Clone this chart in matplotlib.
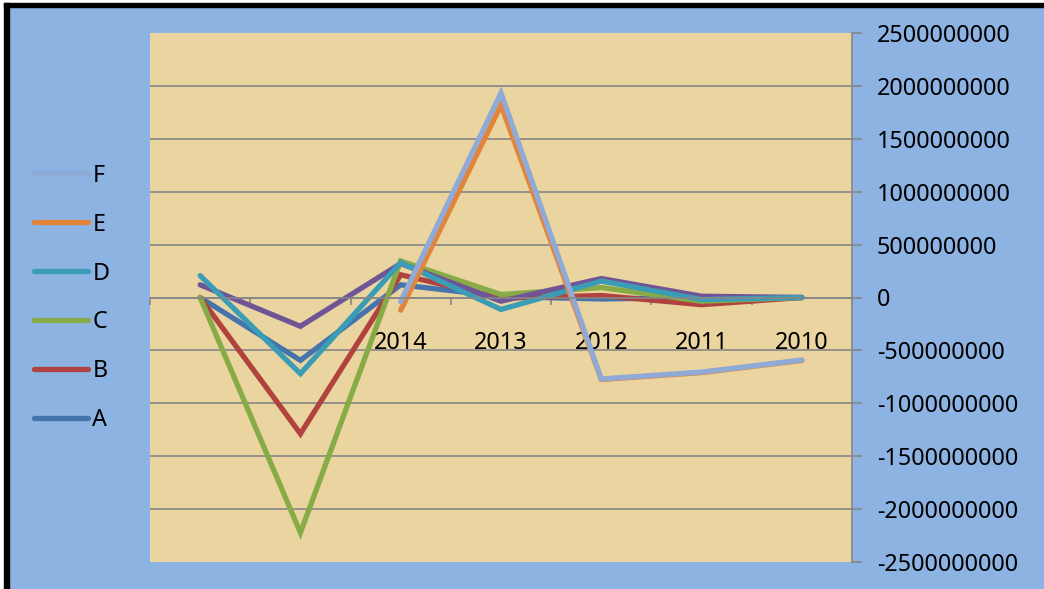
import numpy as np
import matplotlib.pyplot as plt
from matplotlib.patches import Rectangle
from matplotlib.ticker import FixedLocator

plt.rcParams['font.family'] = ['Noto Sans', 'DejaVu Sans']

categories = ['', '', '2014', '2013', '2012', '2011', '2010']
nan = np.nan
A = [0, -594e6, 120e6, 10e6, -14e6, 0, 0]
B = [0, -1288e6, 215e6, -7e6, 19e6, -68e6, 0]
C = [0, -2223e6, 345e6, 28e6, 94e6, -35e6, 0]
P = [120e6, -272e6, 321e6, -35e6, 179e6, 12e6, 0]   # purple series, not in legend
D = [207e6, -720e6, 330e6, -113e6, 155e6, -19e6, 0]
E = [nan, nan, -120e6, 1819e6, -775e6, -710e6, -595e6]
F = [nan, nan, -38e6, 1933e6, -770e6, -705e6, -591e6]

series = [('A', A, '#4573AD'), ('B', B, '#B0433F'), ('C', C, '#86AB47'),
          (None, P, '#6F5496'), ('D', D, '#3B9DB5'), ('E', E, '#E2843A'),
          ('F', F, '#8FAAD6')]

fig = plt.figure(figsize=(10.44, 5.89), dpi=100, facecolor='#8DB3E2')

# black frame on left and top edge
fig.patches.append(Rectangle((0, 0), 4 / 1044, 1, transform=fig.transFigure, color='white', zorder=0))
fig.patches.append(Rectangle((0, 1 - 3 / 589), 1, 3 / 589, transform=fig.transFigure, color='white', zorder=0))
fig.patches.append(Rectangle((4 / 1044, 0), 5 / 1044, 1 - 3 / 589, transform=fig.transFigure, color='black', zorder=1))
fig.patches.append(Rectangle((4 / 1044, 1 - 7 / 589), 1 - 4 / 1044, 4 / 589, transform=fig.transFigure, color='black', zorder=1))

ax = fig.add_axes([150 / 1044, 27 / 589, 702 / 1044, 529 / 589])
ax.set_facecolor('#EAD49F')
x = np.arange(len(categories))

handles = {}
for name, vals, col in series:
    ln, = ax.plot(x, vals, color=col, lw=3.8, solid_capstyle='round', solid_joinstyle='miter')
    if name:
        handles[name] = ln

ax.set_xlim(-0.5, 6.5)
ax.set_ylim(-2.5e9, 2.5e9)
yt = np.arange(-2.5e9, 2.51e9, 5e8)
ax.set_yticks(yt)
ax.set_yticklabels(['%d' % v for v in yt])
for v in yt[1:-1]:
    ax.axhline(v, color='#878787', lw=1.2, zorder=0.5)

ax.yaxis.tick_right()
ax.tick_params(axis='y', length=7, width=1.2, color='#878787', pad=11, labelsize=16.8)
for s in ['top', 'left']:
    ax.spines[s].set_visible(False)
ax.spines['right'].set_color('#878787')
ax.spines['right'].set_linewidth(1.2)
ax.spines['bottom'].set_position(('data', 0))
ax.spines['bottom'].set_color('#878787')
ax.spines['bottom'].set_linewidth(1.2)

ax.set_xticks(x)
ax.set_xticklabels(categories)
ax.tick_params(axis='x', length=0, pad=24, labelsize=16.8)
ax.xaxis.set_minor_locator(FixedLocator(np.arange(-0.5, 6.6, 1)))
ax.tick_params(axis='x', which='minor', length=5, width=1.2, color='#878787', direction='out')

order = ['F', 'E', 'D', 'C', 'B', 'A']
fig.legend([handles[k] for k in order], order, loc='center left',
           bbox_to_anchor=(34 / 1044, 1 - 298 / 589), frameon=False,
           fontsize=16.8, handlelength=2.3, handletextpad=0.2, labelspacing=1.07,
           borderpad=0, borderaxespad=0)

fig.savefig('out.png', dpi=100, facecolor=fig.get_facecolor())
